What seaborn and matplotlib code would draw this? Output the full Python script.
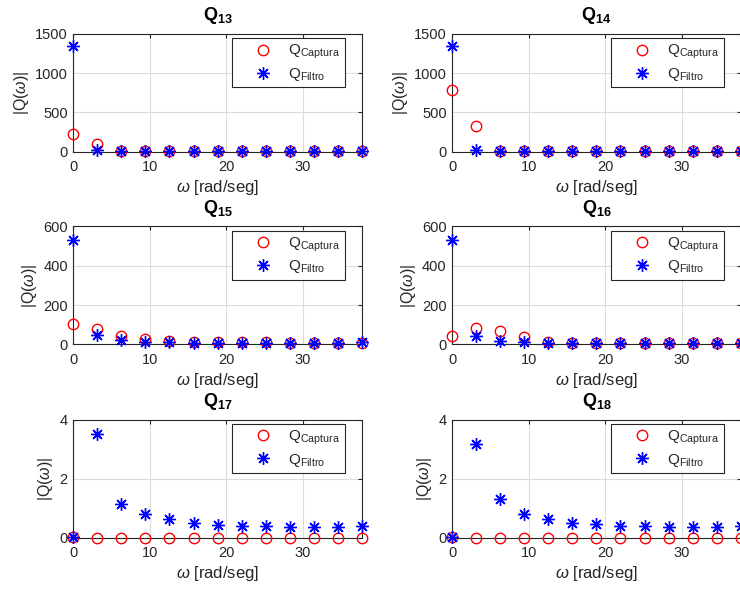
import numpy as np
import pandas as pd
import seaborn as sns
from matplotlib import pyplot as plt

# frequencies (k * pi)
omega = [0, 3.14, 6.28, 9.42, 12.57, 15.71, 18.85, 21.99, 25.13, 28.27, 31.42, 34.56, 37.70]

names = ['Q13', 'Q14', 'Q15', 'Q16', 'Q17', 'Q18']
titles = ['13', '14', '15', '16', '17', '18']

captura_13 = [220, 95, 5, 3, 3, 3, 3, 3, 3, 3, 3, 3, 3]
filtro_13 = [1340, 20, 3, 3, 3, 3, 3, 3, 3, 3, 3, 3, 3]
captura_14 = [790, 330, 5, 3, 3, 3, 3, 3, 3, 3, 3, 3, 3]
filtro_14 = [1340, 20, 3, 3, 3, 3, 3, 3, 3, 3, 3, 3, 3]
captura_15 = [101, 79, 44, 27, 18, 12, 10, 10, 10, 8, 8, 8, 8]
filtro_15 = [533, 48, 22, 14, 10, 8, 8, 8, 8, 6, 6, 6, 10]
captura_16 = [44, 85, 68, 36, 10, 9, 9, 9, 9, 6, 6, 6, 6]
filtro_16 = [533, 44, 19, 10, 8, 8, 8, 8, 8, 5, 5, 5, 8]
captura_17 = [0.02, 0, 0, 0, 0, 0, 0, 0, 0, 0, 0, 0, 0]
filtro_17 = [0.02, 3.50, 1.14, 0.81, 0.62, 0.51, 0.43, 0.39, 0.39, 0.36, 0.36, 0.36, 0.40]
captura_18 = [0.02, 0, 0, 0, 0, 0, 0, 0, 0, 0, 0, 0, 0]
filtro_18 = [0.02, 3.16, 1.31, 0.81, 0.62, 0.51, 0.46, 0.38, 0.38, 0.36, 0.36, 0.36, 0.40]

captura = [captura_13, captura_14, captura_15, captura_16, captura_17, captura_18]
filtro = [filtro_13, filtro_14, filtro_15, filtro_16, filtro_17, filtro_18]
yticks = [[0, 500, 1000, 1500], [0, 500, 1000, 1500],
          [0, 200, 400, 600], [0, 200, 400, 600],
          [0, 2, 4], [0, 2, 4]]

sns.set_style('white')
plt.rcParams['font.family'] = ['Liberation Sans', 'DejaVu Sans']
plt.rcParams['mathtext.fontset'] = 'custom'
plt.rcParams['mathtext.rm'] = 'Liberation Sans'
plt.rcParams['mathtext.it'] = 'Liberation Sans:italic'
plt.rcParams['mathtext.bf'] = 'Liberation Sans:bold'
plt.rcParams['mathtext.default'] = 'regular'

fig = plt.figure(figsize=(7.4, 5.89), dpi=100)
lefts = [0.0991, 0.6112]
bottoms = [0.7424, 0.4155, 0.0874]
dark = '#262626'
asterisk = (8, 2, 0)

for i, name in enumerate(names):
    ax = fig.add_axes([lefts[i % 2], bottoms[i // 2], 0.3897, 0.2])
    df = pd.DataFrame({'w': omega, 'cap': captura[i], 'fil': filtro[i]})
    sns.lineplot(data=df, x='w', y='cap', ax=ax, linestyle='', marker='o',
                 mfc='none', mec='red', mew=1.0, ms=7.5, clip_on=False,
                 label='Q$_{Captura}$', zorder=3)
    sns.lineplot(data=df, x='w', y='fil', ax=ax, linestyle='', marker=asterisk,
                 mec='blue', mew=1.0, ms=9, clip_on=False,
                 label='Q$_{Filtro}$', zorder=4)
    ax.set_xlim(0, 37.70)
    ax.set_ylim(yticks[i][0], yticks[i][-1])
    ax.set_xticks([0, 10, 20, 30])
    ax.set_yticks(yticks[i])
    ax.grid(True, color='#dcdcdc', linewidth=0.8)
    ax.set_axisbelow(True)
    ax.tick_params(direction='in', length=3, colors=dark, labelsize=10.5,
                   top=True, right=True)
    ax.tick_params(axis='x', pad=6)
    ax.tick_params(axis='y', pad=4)
    for s in ax.spines.values():
        s.set_color(dark)
        s.set_linewidth(0.8)
    ax.set_title(r'$\mathbf{Q_{' + titles[i] + '}}$', fontsize=13, color='black', pad=10)
    ax.set_xlabel(r'$\mathit{\omega}$ [rad/seg]', fontsize=12, color=dark, labelpad=3)
    ax.set_ylabel(r'|Q($\mathit{\omega}$)|', fontsize=11.5, color=dark, labelpad=3)
    leg = ax.legend(loc='upper right', bbox_to_anchor=(0.942, 0.962), borderaxespad=0,
                    fancybox=False, framealpha=1, edgecolor=dark, fontsize=11,
                    handlelength=3.5, handletextpad=-0.1, borderpad=0.3, labelspacing=0.3)
    leg.get_frame().set_linewidth(0.8)

fig.savefig('out.png', dpi=100)
